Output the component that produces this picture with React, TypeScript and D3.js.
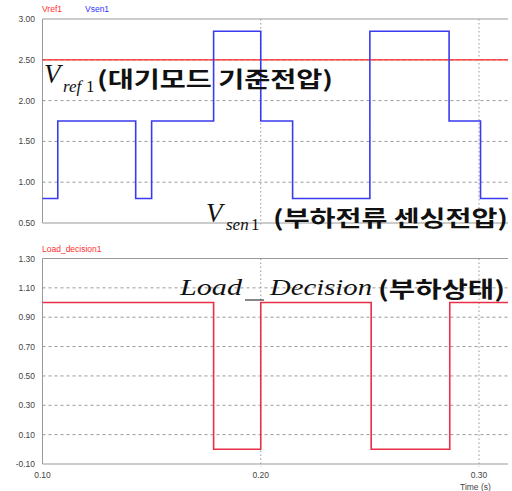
import * as React from 'react';
import * as d3 from 'd3';

// step series (time in s)
const vsenTimes = [0.10, 0.107, 0.1427, 0.150, 0.1784, 0.200, 0.2146, 0.250, 0.2863, 0.3007, 0.3133];
const vsenValues = [0.80, 1.75, 0.80, 1.75, 2.85, 1.75, 0.80, 2.85, 1.75, 0.80, 0.80];
const vrefTimes = [0.10, 0.3133];
const vrefValues = [2.50, 2.50];
const loadTimes = [0.10, 0.1784, 0.200, 0.2506, 0.2866, 0.3133];
const loadValues = [1, 0, 1, 0, 1, 1];

const topTicks = [0.5, 1.0, 1.5, 2.0, 2.5, 3.0];
const bottomTicks = [-0.1, 0.1, 0.3, 0.5, 0.7, 0.9, 1.1, 1.3];
const timeTicks = [0.10, 0.20, 0.30];

const W = 512;
const H = 491;
const left = 42.5;
const right = 508;

const x = d3.scaleLinear().domain([0.10, 0.30]).range([left, 479]);
const yTop = d3.scaleLinear().domain([0.5, 3.0]).range([223, 19]);
const yBot = d3.scaleLinear().domain([-0.1, 1.3]).range([464, 258.5]);

const stepLine = (ys: d3.ScaleLinear<number, number>) =>
    d3.line<[number, number]>()
        .x(d => x(d[0]))
        .y(d => ys(d[1]))
        .curve(d3.curveStepAfter);

const zip = (a: number[], b: number[]) => a.map((t, i) => [t, b[i]] as [number, number]);

const tickFont = { fontFamily: 'Liberation Sans, Arial, sans-serif', fontSize: 8.5, fill: '#444' };
const korean = { fontFamily: 'Noto Sans CJK KR', fontWeight: 700, fontSize: 22, fill: '#111' };
const serifIt = { fontFamily: 'Liberation Serif, Times New Roman, serif', fontStyle: 'italic', fill: '#111' };
const serif = { fontFamily: 'Liberation Serif, Times New Roman, serif', fill: '#111' };

function Panel({ ys, ticks, top, bottom }: any) {
    return (
        <g>
            {ticks.slice(1, -1).map((v: number) => (
                <line key={'h' + v} x1={left} x2={right} y1={ys(v)} y2={ys(v)}
                    stroke="#999" strokeDasharray="3,3" strokeWidth={1} />
            ))}
            {timeTicks.slice(1).map(t => (
                <line key={'v' + t} x1={x(t)} x2={x(t)} y1={top} y2={bottom + 3}
                    stroke="#999" strokeDasharray="1.5,2.5" strokeWidth={1} />
            ))}
            <line x1={left} x2={right} y1={top} y2={top} stroke="#999" strokeWidth={1} />
            <line x1={left} x2={right} y1={bottom} y2={bottom} stroke="#999" strokeWidth={1} />
            <line x1={left} x2={left} y1={top} y2={bottom} stroke="#999" strokeWidth={1} />
            {ticks.map((v: number) => (
                <text key={'t' + v} x={35} y={ys(v) + 3} textAnchor="end" style={tickFont}>
                    {v.toFixed(2)}
                </text>
            ))}
        </g>
    );
}

export default function App() {
    return (
        <svg width={W} height={H} style={{ position: 'absolute', left: 0, top: 0, background: '#fff' }}>
            <rect width={W} height={H} fill="#fff" />

            {/* top panel */}
            <Panel ys={yTop} ticks={topTicks} top={yTop(3.0)} bottom={yTop(0.5)} />
            <text x={42} y={12} style={{ ...tickFont, fill: '#ff3030' }}>Vref1</text>
            <text x={85} y={12} style={{ ...tickFont, fill: '#3030ff' }}>Vsen1</text>
            <path d={stepLine(yTop)(zip(vrefTimes, vrefValues)) || ''} fill="none" stroke="#ff2020" strokeWidth={1.2} />
            <path d={stepLine(yTop)(zip(vsenTimes, vsenValues)) || ''} fill="none" stroke="#3a3af0" strokeWidth={1.6} />

            <text x={44} y={83} style={{ ...serifIt, fontSize: 27 }}>V</text>
            <text x={63} y={92} style={{ ...serifIt, fontSize: 17 }}>ref</text>
            <text x={86} y={92} style={{ ...serif, fontSize: 17 }}>1</text>
            <text x={97} y={87} style={korean} textLength={236} lengthAdjust="spacingAndGlyphs">(대기모드 기준전압)</text>

            <text x={206} y={222} style={{ ...serifIt, fontSize: 27 }}>V</text>
            <text x={226} y={230} style={{ ...serifIt, fontSize: 17 }}>sen</text>
            <text x={251} y={230} style={{ ...serif, fontSize: 17 }}>1</text>
            <text x={273} y={226} style={korean} textLength={235} lengthAdjust="spacingAndGlyphs">(부하전류 센싱전압)</text>

            {/* bottom panel */}
            <Panel ys={yBot} ticks={bottomTicks} top={yBot(1.3)} bottom={yBot(-0.1)} />
            <text x={42} y={252} style={{ ...tickFont, fill: '#ff3030' }}>Load_decision1</text>
            <path d={stepLine(yBot)(zip(loadTimes, loadValues)) || ''} fill="none" stroke="#e83048" strokeWidth={1.6} />

            <text x={180} y={295} style={{ ...serifIt, fontSize: 24 }} textLength={62} lengthAdjust="spacingAndGlyphs">Load</text>
            <line x1={245} x2={264} y1={300} y2={300} stroke="#111" strokeWidth={1} />
            <text x={270} y={295} style={{ ...serifIt, fontSize: 24 }} textLength={102} lengthAdjust="spacingAndGlyphs">Decision</text>
            <text x={378} y={297} style={korean} textLength={127} lengthAdjust="spacingAndGlyphs">(부하상태)</text>

            {timeTicks.map(t => (
                <text key={t} x={x(t)} y={478} textAnchor="middle" style={tickFont}>{t.toFixed(2)}</text>
            ))}
            <text x={460} y={490} style={tickFont}>Time  (s)</text>
        </svg>
    );
}
